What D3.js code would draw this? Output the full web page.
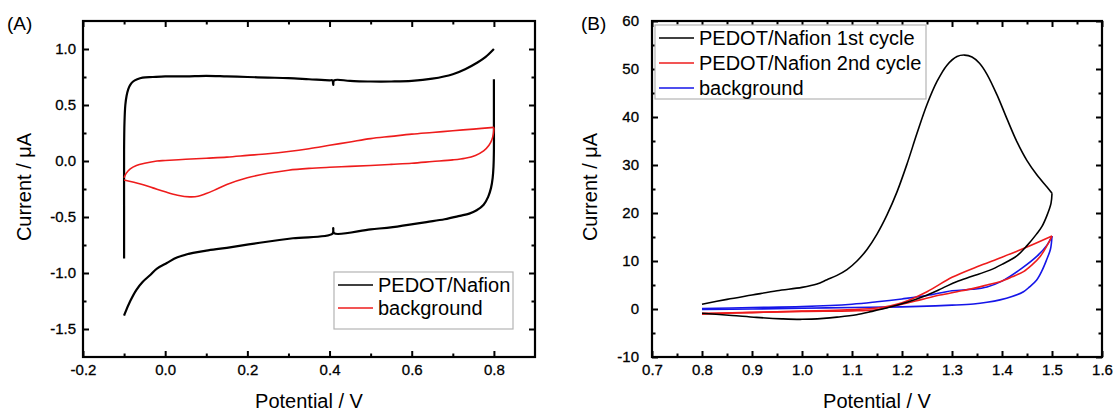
<!DOCTYPE html>
<html>
<head>
<meta charset="utf-8">
<script src="https://cdn.jsdelivr.net/npm/d3@7"></script>
<style>
  body { margin: 0; background: #fff; }
  svg { display: block; font-family: "Liberation Sans", Arial, sans-serif; }
</style>
</head>
<body>
<svg id="drawing_region"></svg>
<script>
// ---- panel (A) : CV of PEDOT/Nafion and background, -0.1 .. 0.8 V
const a_pedot_anodic = [[-0.1,-0.87],[-0.1,-0.4],[-0.1,0.1],[-0.099,0.35],[-0.097,0.5],[-0.094,0.58],[-0.09,0.64],
  [-0.085,0.68],[-0.078,0.71],[-0.068,0.73],[-0.055,0.745],[-0.03,0.75],[0.0,0.755],[0.05,0.755],[0.1,0.76],
  [0.15,0.755],[0.2,0.75],[0.25,0.745],[0.3,0.74],[0.35,0.73],[0.4,0.72],[0.407,0.72],[0.409,0.68],[0.411,0.72],
  [0.45,0.715],[0.5,0.71],[0.55,0.71],[0.6,0.715],[0.65,0.735],[0.7,0.775],[0.73,0.82],[0.76,0.88],[0.78,0.93],[0.8,1.0]];
const a_pedot_cathodic = [[0.8,0.73],[0.8,0.4],[0.8,0.1],[0.799,-0.05],[0.797,-0.15],[0.793,-0.24],[0.786,-0.32],
  [0.775,-0.39],[0.758,-0.44],[0.74,-0.47],[0.717,-0.49],[0.68,-0.52],[0.636,-0.545],[0.554,-0.59],[0.5,-0.61],
  [0.411,-0.645],[0.409,-0.6],[0.407,-0.65],[0.311,-0.69],[0.23,-0.73],[0.15,-0.775],[0.1,-0.8],[0.068,-0.82],
  [0.03,-0.86],[0.004,-0.91],[-0.02,-0.96],[-0.037,-1.02],[-0.055,-1.08],[-0.07,-1.15],[-0.085,-1.25],[-0.098,-1.36],[-0.1,-1.38]];
const a_bg_anodic = [[-0.1,-0.15],[-0.095,-0.11],[-0.085,-0.07],[-0.07,-0.04],[-0.05,-0.02],[-0.02,0.0],[0.0,0.005],
  [0.05,0.015],[0.1,0.025],[0.15,0.035],[0.2,0.05],[0.25,0.065],[0.3,0.085],[0.35,0.11],[0.4,0.14],[0.45,0.17],
  [0.5,0.2],[0.55,0.22],[0.6,0.24],[0.65,0.255],[0.7,0.27],[0.75,0.285],[0.8,0.3]];
const a_bg_cathodic = [[0.8,0.3],[0.799,0.25],[0.795,0.19],[0.788,0.14],[0.775,0.09],[0.755,0.05],[0.73,0.025],
  [0.7,0.01],[0.65,-0.005],[0.6,-0.02],[0.55,-0.03],[0.5,-0.04],[0.45,-0.048],[0.4,-0.056],[0.35,-0.066],[0.3,-0.082],
  [0.25,-0.11],[0.2,-0.15],[0.15,-0.21],[0.12,-0.26],[0.1,-0.29],[0.08,-0.315],[0.06,-0.32],[0.03,-0.305],
  [0.0,-0.275],[-0.03,-0.24],[-0.06,-0.205],[-0.1,-0.17]];
const a_names = ['PEDOT/Nafion', 'background'];
const a_xticks = [-0.2, 0.0, 0.2, 0.4, 0.6, 0.8];
const a_xminor = [-0.1, 0.1, 0.3, 0.5, 0.7];
const a_yticks = [-1.5, -1.0, -0.5, 0.0, 0.5, 1.0];
const a_yminor = [-1.25, -0.75, -0.25, 0.25, 0.75];

// ---- panel (B) : 1st / 2nd cycle and background, 0.8 .. 1.5 V
const b_cyc1_anodic = [[0.8,1.0],[0.85,2.0],[0.9,2.9],[0.95,3.8],[1.0,4.5],[1.03,5.2],[1.05,6.1],[1.07,7.0],[1.09,8.2],
  [1.11,10.0],[1.13,12.4],[1.15,15.6],[1.17,19.6],[1.19,24.4],[1.21,30.2],[1.23,36.6],[1.25,42.6],[1.27,47.4],
  [1.29,50.8],[1.31,52.6],[1.325,52.9],[1.34,52.5],[1.355,51.2],[1.37,48.9],[1.39,44.6],[1.41,39.6],[1.43,34.8],
  [1.45,30.9],[1.47,27.9],[1.49,25.4],[1.5,24.1]];
const b_cyc1_cathodic = [[1.5,24.1],[1.498,22.0],[1.49,19.5],[1.48,17.2],[1.469,15.6],[1.45,13.2],[1.429,11.0],
  [1.4,9.3],[1.376,8.1],[1.34,6.8],[1.309,5.7],[1.28,4.3],[1.243,2.6],[1.21,1.4],[1.176,0.4],[1.14,-0.5],[1.109,-1.2],
  [1.07,-1.7],[1.043,-1.95],[1.0,-2.15],[0.96,-2.05],[0.909,-1.75],[0.86,-1.35],[0.8,-0.9]];
const b_cyc2_anodic = [[0.8,-1.1],[0.85,-0.9],[0.9,-0.75],[0.95,-0.6],[1.0,-0.45],[1.05,-0.3],[1.1,-0.1],[1.15,0.2],
  [1.2,1.3],[1.25,3.6],[1.3,6.6],[1.35,8.8],[1.4,10.8],[1.45,12.9],[1.5,15.2]];
const b_cyc2_cathodic = [[1.5,15.2],[1.49,13.2],[1.476,10.9],[1.46,9.2],[1.443,7.8],[1.42,6.7],[1.396,5.7],[1.37,5.0],
  [1.343,4.3],[1.31,3.6],[1.276,2.9],[1.24,2.0],[1.209,1.2],[1.175,0.4],[1.143,-0.2],[1.1,-0.4],[1.0,-0.5],[0.9,-0.7],[0.8,-0.9]];
const b_bg_anodic = [[0.8,0.1],[0.9,0.3],[1.0,0.5],[1.1,1.0],[1.15,1.5],[1.2,2.1],[1.25,2.8],[1.3,3.8],[1.34,4.1],
  [1.37,4.6],[1.4,5.8],[1.44,8.5],[1.47,11.0],[1.49,13.3],[1.5,15.2]];
const b_bg_cathodic = [[1.5,15.2],[1.497,12.5],[1.489,10.2],[1.48,8.0],[1.469,6.0],[1.455,4.6],[1.443,3.6],[1.42,2.6],
  [1.396,1.9],[1.37,1.4],[1.343,1.05],[1.3,0.8],[1.25,0.6],[1.2,0.45],[1.1,0.3],[1.0,0.15],[0.9,0.0],[0.8,-0.1]];
const b_names = ['PEDOT/Nafion 1st cycle', 'PEDOT/Nafion 2nd cycle', 'background'];
const b_xticks = [0.7, 0.8, 0.9, 1.0, 1.1, 1.2, 1.3, 1.4, 1.5, 1.6];
const b_xminor = [0.75, 0.85, 0.95, 1.05, 1.15, 1.25, 1.35, 1.45, 1.55];
const b_yticks = [-10, 0, 10, 20, 30, 40, 50, 60];
const b_yminor = [-5, 5, 15, 25, 35, 45, 55];

const BLACK = '#000', RED = '#ee1c1c', BLUE = '#1515e8';

class CVChart {
  constructor(config, series, legend) {
    this.config = config;
    this.series = series;
    this.legend = legend;
    this.init();
  }
  init() {
    this.svg = d3.select(this.config.parent);
    this.chart = this.svg.append('g');
    this.xscale = d3.scaleLinear().domain(this.config.xdomain).range([this.config.left, this.config.right]);
    this.yscale = d3.scaleLinear().domain(this.config.ydomain).range([this.config.bottom, this.config.top]);
    this.line = d3.line()
      .x(d => this.xscale(d[0]))
      .y(d => this.yscale(d[1]))
      .curve(d3.curveCatmullRom.alpha(0.5));
  }
  render() {
    const c = this.config;

    // inward ticks on all four sides
    const axes = [
      [d3.axisBottom, `translate(0,${c.bottom})`, this.xscale, c.xticks, c.xminor, c.xfmt, 7],
      [d3.axisTop, `translate(0,${c.top})`, this.xscale, c.xticks, c.xminor, null, 0],
      [d3.axisLeft, `translate(${c.left},0)`, this.yscale, c.yticks, c.yminor, c.yfmt, c.pad],
      [d3.axisRight, `translate(${c.right},0)`, this.yscale, c.yticks, c.yminor, null, 0]
    ];
    axes.forEach(([fn, tr, scale, major, minor, fmt, pad]) => {
      const g = this.chart.append('g').attr('transform', tr)
        .call(fn(scale).tickValues(major).tickSizeInner(-6).tickSizeOuter(0)
          .tickPadding(pad).tickFormat(fmt || ''));
      g.select('.domain').remove();
      g.selectAll('line').attr('stroke', '#000').attr('stroke-width', 2);
      g.selectAll('text').attr('font-size', 15).attr('fill', '#000')
        .attr('stroke', '#000').attr('stroke-width', 0.3);
      const gm = this.chart.append('g').attr('transform', tr)
        .call(fn(scale).tickValues(minor).tickSizeInner(-3.5).tickSizeOuter(0).tickFormat(''));
      gm.select('.domain').remove();
      gm.selectAll('line').attr('stroke', '#000').attr('stroke-width', 2);
    });
    this.chart.selectAll('.tick text').attr('font-family', null);

    // data
    this.series.forEach(s => {
      this.chart.append('path')
        .attr('d', this.line(s.data))
        .attr('stroke', s.color)
        .attr('stroke-width', s.width || 1.6)
        .attr('fill', 'none');
    });

    // frame
    this.chart.append('rect')
      .attr('x', c.left).attr('y', c.top)
      .attr('width', c.right - c.left).attr('height', c.bottom - c.top)
      .attr('fill', 'none').attr('stroke', '#000').attr('stroke-width', 2.2);

    // titles
    this.chart.append('text')
      .attr('x', (c.left + c.right) / 2).attr('y', 408)
      .attr('text-anchor', 'middle').attr('font-size', 20)
      .text('Potential / V');
    this.chart.append('text')
      .attr('transform', `translate(${c.ytitle_x},${(c.top + c.bottom) / 2 - 2}) rotate(-90)`)
      .attr('text-anchor', 'middle').attr('font-size', 20)
      .text('Current / μA');
    this.chart.append('text')
      .attr('x', c.label_x).attr('y', 30)
      .attr('font-size', 19)
      .text(c.label);

    // legend
    const lg = this.legend;
    this.chart.append('rect')
      .attr('x', lg.x).attr('y', lg.y).attr('width', lg.w).attr('height', lg.h)
      .attr('fill', '#fff').attr('stroke', '#b4b4b4').attr('stroke-width', 1.2);
    lg.items.forEach((it, i) => {
      const cy = lg.y + lg.first + i * lg.step;
      this.chart.append('line')
        .attr('x1', lg.x + 4).attr('x2', lg.x + 39)
        .attr('y1', cy).attr('y2', cy)
        .attr('stroke', it.color).attr('stroke-width', 1.6);
      this.chart.append('text')
        .attr('x', lg.x + 44).attr('y', cy + 7)
        .attr('font-size', 20)
        .text(it.name);
    });
  }
}

d3.select('#drawing_region').attr('width', 1116).attr('height', 412);

const fmt1 = d => d.toFixed(1);
const chartA = new CVChart(
  { parent: '#drawing_region', xdomain: [-0.2, 0.9], ydomain: [-1.75, 1.25],
    left: 83, right: 535, top: 21, bottom: 357, pad: 7, xfmt: fmt1, yfmt: fmt1,
    xticks: a_xticks, xminor: a_xminor, yticks: a_yticks, yminor: a_yminor,
    ytitle_x: 31, label: '(A)', label_x: 7 },
  [ { data: a_pedot_anodic, color: BLACK, width: 2.2 }, { data: a_pedot_cathodic, color: BLACK, width: 2.2 },
    { data: a_bg_anodic, color: RED }, { data: a_bg_cathodic, color: RED } ],
  { x: 334, y: 272, w: 179, h: 57, first: 13, step: 23,
    items: [ { name: a_names[0], color: BLACK }, { name: a_names[1], color: RED } ] }
);
chartA.render();

const chartB = new CVChart(
  { parent: '#drawing_region', xdomain: [0.7, 1.6], ydomain: [-10, 60],
    left: 652, right: 1102, top: 21, bottom: 357, pad: 13, xfmt: fmt1, yfmt: d => d.toFixed(0),
    xticks: b_xticks, xminor: b_xminor, yticks: b_yticks, yminor: b_yminor,
    ytitle_x: 597, label: '(B)', label_x: 581 },
  [ { data: b_bg_anodic, color: BLUE }, { data: b_bg_cathodic, color: BLUE },
    { data: b_cyc2_anodic, color: RED }, { data: b_cyc2_cathodic, color: RED },
    { data: b_cyc1_anodic, color: BLACK }, { data: b_cyc1_cathodic, color: BLACK } ],
  { x: 655, y: 25, w: 271, h: 74, first: 13, step: 25,
    items: [ { name: b_names[0], color: BLACK }, { name: b_names[1], color: RED }, { name: b_names[2], color: BLUE } ] }
);
chartB.render();
</script>
</body>
</html>
